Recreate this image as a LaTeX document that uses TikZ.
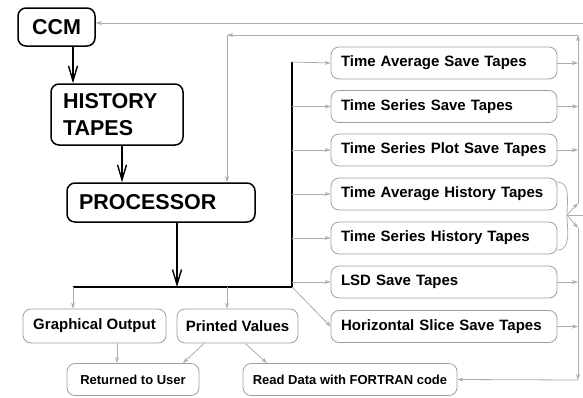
\documentclass[tikz,border=0pt]{standalone}
\usepackage{fontspec}
\setmainfont{Liberation Sans}
\usetikzlibrary{arrows.meta}

\begin{document}
\begin{tikzpicture}[x=1pt,y=-1pt,
  bigbox/.style={draw,line width=1.5pt,rounded corners=8pt,inner xsep=12pt,inner ysep=0pt,
    font=\bfseries\fontsize{21.5}{27}\selectfont},
  tapebox/.style={draw=gray!75,line width=0.8pt,rounded corners=8pt,text width=206pt,align=left,
    inner xsep=10pt,inner ysep=0pt,minimum height=32pt,font=\bfseries\fontsize{15}{18}\selectfont},
  outbox/.style={draw=gray!75,line width=0.8pt,rounded corners=8pt,inner sep=0pt,minimum height=34pt,
    font=\bfseries\fontsize{15}{18}\selectfont},
  userbox/.style={outbox,minimum height=32pt,font=\bfseries\fontsize{13}{15}\selectfont},
  flow/.style={line width=1.4pt,-{Straight Barb[length=15pt,width=9pt]}},
  bus/.style={line width=1.4pt},
  feed/.style={draw=gray!65,line width=0.8pt,-{Stealth[length=6pt,width=4pt]}},
  feedline/.style={draw=gray!65,line width=0.8pt}]
\useasboundingbox (0,0) rectangle (583,397);

% main chain
\node[bigbox,minimum width=77pt,minimum height=38pt] (ccm) at (56.5,27) {CCM};
\node[bigbox,text width=108pt,align=left,minimum height=61pt] (hist) at (117,114.5) {HISTORY\\TAPES};
\node[bigbox,text width=164pt,align=left,minimum height=39pt] (proc) at (161,202.5) {PROCESSOR};

% save and history tapes
\node[tapebox] (tas) at (444,63) {Time Average Save Tapes};
\node[tapebox] (tss) at (444,106.5) {Time Series Save Tapes};
\node[tapebox] (tsp) at (444,150) {Time Series Plot Save Tapes};
\node[tapebox] (tah) at (444,194) {Time Average History Tapes};
\node[tapebox] (tsh) at (444,238) {Time Series History Tapes};
\node[tapebox] (lsd) at (444,282) {LSD Save Tapes};
\node[tapebox] (hsl) at (444,326.5) {Horizontal Slice Save Tapes};

% outputs
\node[outbox,minimum width=143pt] (graph) at (94.5,326) {Graphical Output};
\node[outbox,minimum width=121pt] (printv) at (237.5,326) {Printed Values};
\node[userbox,minimum width=132pt] (ret) at (133,379.5) {Returned to User};
\node[userbox,minimum width=214pt] (rdata) at (350,379.5) {Read Data with FORTRAN code};

\coordinate (busL) at (73,287);
\coordinate (busM) at (177,287);
\coordinate (busP) at (227,287);
\coordinate (busC) at (292,287);
\coordinate (busT) at (292,62);
\coordinate (upT) at (578,35);
\coordinate (upB) at (578,203);
\coordinate (fork) at (567,215);
\coordinate (loT) at (578,228);
\coordinate (loB) at (578,380);
\coordinate (back) at (227,35);

\draw[flow] (ccm.south -| 73,0) -- (hist.north -| 73,0);
\draw[flow] (hist.south -| 122,0) -- (proc.north -| 122,0);
\draw[flow] (proc.south -| busM) -- (busM);
\draw[bus] (busL) -- (busC) -- (busT);

% from the bus
\draw[feed] (busT) -- (tas.west);
\draw[feed] (busT |- tss.west) -- (tss.west);
\draw[feed] (busT |- tsp.west) -- (tsp.west);
\draw[feed] (busT |- tah.west) -- (tah.west);
\draw[feed] (busT |- tsh.west) -- (tsh.west);
\draw[feed] (busT |- lsd.west) -- (lsd.west);
\draw[feed] (busC) -- (hsl.west);
\draw[feed] (busL) -- (graph.north -| busL);
\draw[feed] (busP) -- (printv.north -| busP);

\draw[feed] (graph.south -| 117,0) -- (ret.north -| 117,0);
\draw[feed] (printv.south -| 204,0) -- (ret.north -| 183,0);
\draw[feed] (printv.south -| 245,0) -- (rdata.north -| 267,0);

% back to the processor
\draw[feed] (tas.east) -- (tas.east -| upT);
\draw[feed] (tss.east) -- (tss.east -| upT);
\draw[feed] (tsp.east) -- (tsp.east -| upT);
\draw[feed] (upB) -- (upT);
\draw[feed] (upT) -- (back);
\draw[feed] (back) -- (proc.north -| back);

% history tapes fork
\draw[feedline] ([yshift=12pt]tah.east) to[out=0,in=90] (fork) to[out=-90,in=0] ([yshift=-12pt]tsh.east);
\draw[feed] (fork) -- (upB);
\draw[feed] (fork) -- (loT);
\draw[feed] (fork) -| (590,23) -- (ccm.east |- 0,23);

% to fortran reader
\draw[feed] (lsd.east) -- (lsd.east -| loT);
\draw[feed] (hsl.east) -- (hsl.east -| loT);
\draw[feed] (loT) -- (loB);
\draw[feed] (loB) -- (rdata.east);
\end{tikzpicture}
\end{document}
